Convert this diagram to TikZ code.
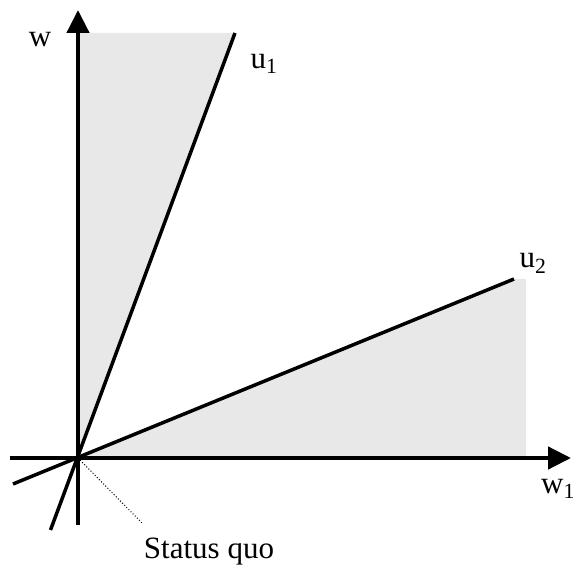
\documentclass[tikz,border=0pt]{standalone}
\usepackage{fontspec}
\setmainfont{Liberation Serif}
\usetikzlibrary{arrows.meta}
\begin{document}
\begin{tikzpicture}[x=1pt,y=-1pt,
  axis/.style={line width=4.5pt,-{Triangle[length=23pt,width=22pt]}},
  uline/.style={line width=3.5pt},
  shade/.style={fill=black!9,draw=none},
  lbl/.style={font=\fontsize{31}{33}\selectfont,inner sep=0pt}]
\useasboundingbox (0,0) rectangle (576,569);
\coordinate (O) at (78,458);
\coordinate (ytop) at (78,10);
\coordinate (ybot) at (78,525);
\coordinate (xl) at (10,458);
\coordinate (xr) at (571,458);
\coordinate (u1a) at (50.5,530);
\coordinate (u1b) at (235,33);
\coordinate (u2a) at (13,484);
\coordinate (u2b) at (514,279);
\coordinate (sq) at (143,524);
% shaded regions
\fill[shade] (O) -- (78,33) -- (u1b) -- cycle;
\fill[shade] (O) -- (u2b) -- (526,279) -- (526,458) -- cycle;
% lines
\draw[uline] (u1a) -- (u1b);
\draw[uline] (u2a) -- (u2b);
\draw[line width=1pt,dotted] (O) -- (sq);
\draw[axis] (ybot) -- (ytop);
\draw[axis] (xl) -- (xr);
% labels
\node[lbl] (lw) at (40,40) {w};
\node[lbl] (lu1) at (264,64) {u\textsubscript{1}};
\node[lbl] (lu2) at (533,263) {u\textsubscript{2}};
\node[lbl] (lw1) at (558,489) {w\textsubscript{1}};
\node[lbl] (lsq) at (209,552) {Status quo};
\end{tikzpicture}
\end{document}
